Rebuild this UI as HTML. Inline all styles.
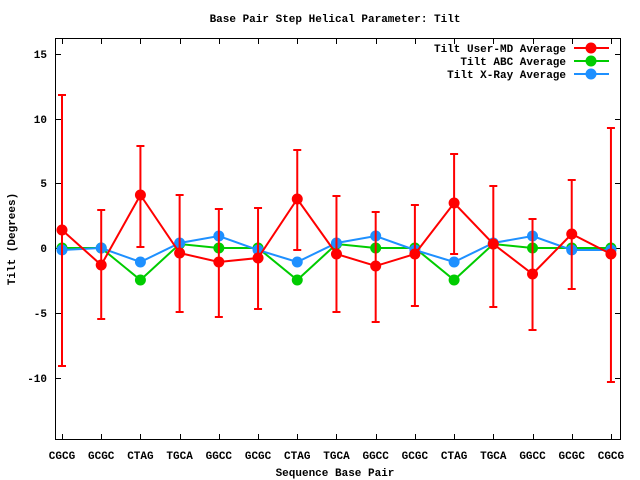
<!DOCTYPE html>
<html><head><style>body{margin:0;background:#fff}svg{display:block}text{font-family:"Liberation Mono","DejaVu Sans Mono",monospace;font-size:11px;font-weight:bold;fill:#000}</style></head>
<body>
<svg width="640" height="480" xmlns="http://www.w3.org/2000/svg">
<text x="335" y="22" text-anchor="middle">Base Pair Step Helical Parameter: Tilt</text>
<rect x="55.5" y="38.5" width="565" height="401" fill="none" stroke="#000"/>
<g stroke="#000" id="ticks"></g>
<g id="yl"></g>
<text x="335" y="476" text-anchor="middle">Sequence Base Pair</text>
<text transform="translate(15,239) rotate(-90)" text-anchor="middle">Tilt (Degrees)</text>
<g id="plot"></g>
<text x="566" y="52" text-anchor="end">Tilt User-MD Average</text>
<text x="566" y="65" text-anchor="end">Tilt ABC Average</text>
<text x="566" y="78" text-anchor="end">Tilt X-Ray Average</text>
<line x1="574" y1="48" x2="609" y2="48" stroke="#f00" stroke-width="2"/><circle cx="591" cy="48" r="5.5" fill="#f00"/>
<line x1="574" y1="61" x2="609" y2="61" stroke="#0c0" stroke-width="2"/><circle cx="591" cy="61" r="5.5" fill="#0c0"/>
<line x1="574" y1="74" x2="609" y2="74" stroke="#1e90ff" stroke-width="2"/><circle cx="591" cy="74" r="5.5" fill="#1e90ff"/>
</svg>
<script>
var ns="http://www.w3.org/2000/svg";
function el(p,t,a,txt){var e=document.createElementNS(ns,t);for(var k in a)e.setAttribute(k,a[k]);if(txt)e.textContent=txt;document.getElementById(p).appendChild(e);return e;}
var labs=["CGCG","GCGC","CTAG","TGCA","GGCC","GCGC","CTAG","TGCA","GGCC","GCGC","CTAG","TGCA","GGCC","GCGC","CGCG"];
function X(i){return 62+i*39.21;}
for(var i=0;i<15;i++){var x=Math.round(X(i))+0.5;
el("ticks","line",{x1:x,y1:39,x2:x,y2:44});el("ticks","line",{x1:x,y1:439,x2:x,y2:434});
el("yl","text",{x:X(i),y:459,"text-anchor":"middle"},labs[i]);}
var yv=[[15,54],[10,119],[5,183],[0,248],[-5,313],[-10,378]];
yv.forEach(function(v){var y=v[1]+0.5;el("ticks","line",{x1:56,y1:y,x2:61,y2:y});el("ticks","line",{x1:620,y1:y,x2:615,y2:y});
el("yl","text",{x:47,y:v[1]+4,"text-anchor":"end"},String(v[0]));});
var red=[230,265,195,253,262,258,199,254,266,254,203,244,274,234,254];
var eb=[[95,366],[210,319],[146,247],[195,312],[209,317],[208,309],[150,250],[196,312],[212,322],[205,306],[154,254],[186,307],[219,330],[180,289],[128,382]];
var green=[248,248,280,244,248,248,280,244,248,248,280,244,248,248,248];
var blue=[250,248,262,243,236,250,262,243,236,250,262,243,236,250,250];
function series(d,c){var p=d.map(function(y,i){return X(i)+","+y}).join(" ");
el("plot","polyline",{points:p,fill:"none",stroke:c,"stroke-width":2});
d.forEach(function(y,i){el("plot","circle",{cx:X(i),cy:y,r:5.5,fill:c});});}
series(green,"#0c0");series(blue,"#1e90ff");
eb.forEach(function(e,i){var x=X(i);el("plot","line",{x1:x,y1:e[0],x2:x,y2:e[1],stroke:"#f00","stroke-width":2});
el("plot","line",{x1:x-4,y1:e[0],x2:x+4,y2:e[0],stroke:"#f00","stroke-width":2});
el("plot","line",{x1:x-4,y1:e[1],x2:x+4,y2:e[1],stroke:"#f00","stroke-width":2});});
series(red,"#f00");
</script>
</body></html>
